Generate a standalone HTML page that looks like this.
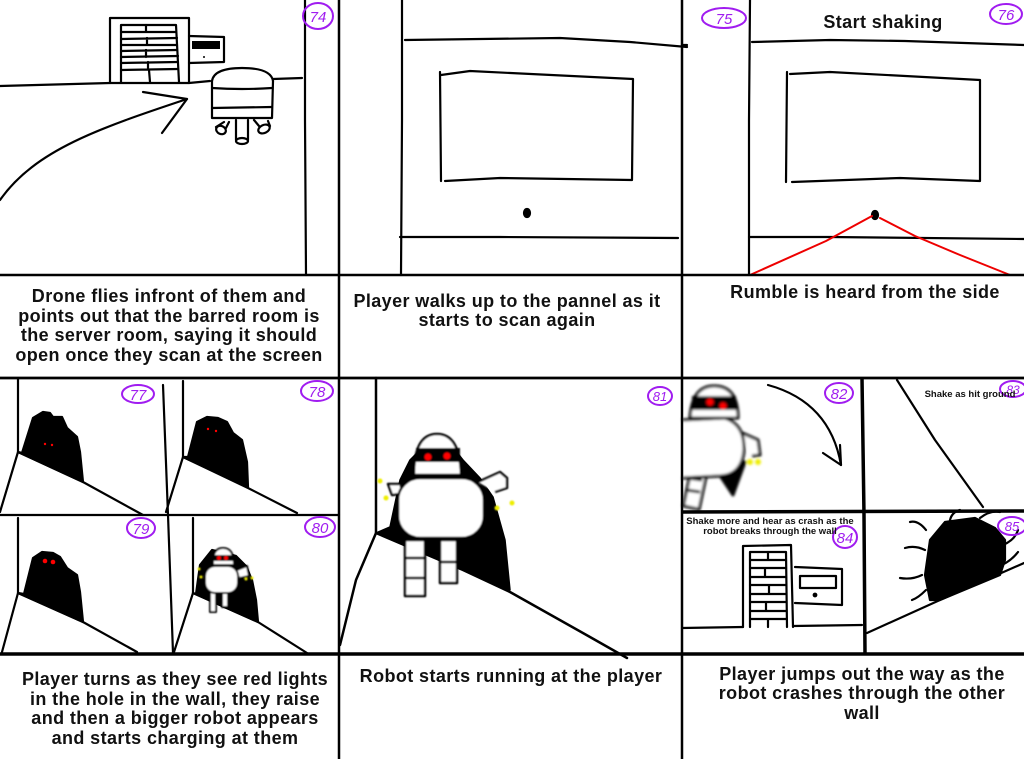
<!DOCTYPE html>
<html><head><meta charset="utf-8"><style>
html,body{margin:0;padding:0;background:#fff;}
svg{display:block;}
.t{font-family:"Liberation Sans",Arial,sans-serif;font-weight:bold;fill:#111;text-anchor:middle;}
.big{font-size:18px;letter-spacing:0.4px;}
.sm{font-size:9.5px;}
.n{font-family:"Liberation Sans",Arial,sans-serif;font-size:15px;fill:#a01cf0;text-anchor:middle;font-style:italic;}
</style></head><body>
<svg width="1024" height="759" viewBox="0 0 1024 759" xmlns="http://www.w3.org/2000/svg">
<defs>
<filter id="bl" x="-20%" y="-20%" width="140%" height="140%"><feGaussianBlur stdDeviation="0.9"/></filter>
<filter id="bl2" x="-20%" y="-20%" width="140%" height="140%"><feGaussianBlur stdDeviation="1.3"/></filter>
</defs>
<rect width="1024" height="759" fill="#fff"/>

<g fill="none" stroke="#000" stroke-width="2.2" stroke-linecap="round" stroke-linejoin="round">
<!-- ===== Panel 74 ===== -->
<path d="M305,0 L305,120 L306,275"/>
<path d="M0,86 L110,83 L189,83 L210,81 M273,79 L302,78"/>
<!-- door -->
<path d="M110,83 L110,18 L189,18 L189,83"/>
<path d="M121,82 L121,25 L176,25 L179,82"/>
<path d="M121,32 L176,32 M121,39 L177,38 M121,45 L177,45 M121,51 L177,50 M121,57 L178,56 M121,63 L178,62 M121,70 L178,69 M146,25 L146,32 M147,38 L147,45 M146,50 L146,57 M148,62 L148,69 M149,70 L150,82"/>
<!-- wall panel -->
<path d="M189,36 L224,37 L224,62 L189,63"/>
<rect x="192" y="41" width="28" height="8" fill="#000" stroke="none"/>
<circle cx="204" cy="57" r="1" fill="#000" stroke="none"/>
<!-- drone -->
<path d="M212,81 Q214,68 242,68 Q271,68 273,81"/>
<path d="M212,81 L212,118 L272,118 L273,81"/>
<path d="M212,88 Q242,90 272,88 M212,108 L272,107"/>
<ellipse cx="221" cy="130" rx="5" ry="4" transform="rotate(25 221 130)"/>
<path d="M216,127 L224,122 M226,128 L229,122"/>
<path d="M236,120 L236,140 M248,120 L248,140"/>
<ellipse cx="242" cy="141" rx="6" ry="3"/>
<ellipse cx="264" cy="129" rx="6" ry="4" transform="rotate(-25 264 129)"/>
<path d="M254,120 L259,126 M268,121 L270,126"/>
<!-- arrow -->
<path d="M0,200 C35,150 100,128 187,99"/>
<path d="M143,92 L187,99 L162,133"/>

<!-- ===== Panel middle top ===== -->
<path d="M402,0 L402,120 L401,275"/>
<path d="M405,40 L560,38 L630,42 L687,47"/>
<path d="M440,72 L441,181 M441,75 L470,71 L633,79 L632,180 L500,178 L445,181"/>
<ellipse cx="527" cy="213" rx="3" ry="4" fill="#000"/>
<path d="M400,237 L500,237 L678,238"/>

<!-- ===== Panel 75/76 ===== -->
<path d="M750,0 L749,120 L749,275"/>
<path d="M682,45 L687,45"/>
<path d="M752,42 L830,40 L905,41 L1024,45"/>
<path d="M787,72 L786,182 M790,74 L830,72 L980,80 L980,181 L900,178 L792,182"/>
<ellipse cx="875" cy="215" rx="3" ry="4" fill="#000"/>
<path d="M749,237 L830,237 L1024,239"/>
<path d="M750,275 L826,241 L872,216 M880,218 L915,236 L960,255 L1010,275" stroke="#e00" stroke-width="2"/>

<!-- ===== Sub-panel 77 ===== -->
<path d="M18,379 L18,452"/>
<path d="M0,512 L18,452 L83,482 L143,515"/>
<path d="M22,453 L33,418 L43,412 L50,413 L53,417 L62,417 L67,428 L77,437 L80,452 L83,482 L18,452 Z" fill="#000"/>
<!-- Sub-panel 78 -->
<path d="M163,385 L168,515 L173,653"/>
<path d="M183,381 L183,457"/>
<path d="M166,512 L183,457 L248,488 L297,513"/>
<path d="M188,457 L197,422 L207,417 L218,418 L227,422 L233,433 L242,440 L247,462 L248,487 L183,457 Z" fill="#000"/>
<!-- Sub-panel 79 -->
<path d="M18,518 L18,593"/>
<path d="M2,652 L18,593 L83,622 L137,652"/>
<path d="M24,594 L33,558 L42,552 L53,553 L60,557 L67,568 L77,575 L80,592 L83,622 L18,593 Z" fill="#000"/>
<!-- Sub-panel 80 -->
<path d="M193,518 L193,593"/>
<path d="M174,652 L193,593 L258,622 L307,653"/>
<path d="M196,594 L200,565 L212,550 L236,556 L246,566 L252,580 L256,600 L258,622 L193,593 Z" fill="#000"/>
<path d="M0,515 L339,515"/>
</g>

<!-- robot 80 -->
<g filter="url(#bl)" stroke="#000" stroke-width="2" stroke-linejoin="round">
<path d="M237,570 L247,566 L249,576 L240,578" fill="#fff"/>
<rect x="210" y="590" width="6" height="22" fill="#fff"/>
<rect x="222" y="590" width="6" height="17" fill="#fff"/>
<path d="M213,565 Q212,548 223,548 Q234,548 234,565 Z" fill="#fff"/>
<rect x="213" y="555" width="21" height="6" fill="#000" stroke="none"/>
<rect x="205" y="566" width="33" height="27" rx="10" fill="#fff"/>
<circle cx="219" cy="558" r="2" fill="#f00" stroke="none"/>
<circle cx="226" cy="558" r="2" fill="#f00" stroke="none"/>
<g fill="#ee0" stroke="none"><circle cx="199" cy="569" r="1.5"/><circle cx="201" cy="577" r="1.5"/><circle cx="246" cy="579" r="1.5"/><circle cx="252" cy="578" r="1.5"/></g>
</g>
<g fill="#f00"><circle cx="45" cy="444" r="1.2"/><circle cx="52" cy="445" r="1.2"/><circle cx="208" cy="429" r="1.2"/><circle cx="216" cy="431" r="1.2"/><circle cx="45" cy="561" r="2.3"/><circle cx="53" cy="562" r="2.3"/></g>

<!-- ===== Panel 81 ===== -->
<g fill="none" stroke="#000" stroke-width="2.5" stroke-linejoin="round" stroke-linecap="round">
<path d="M376,378 L376,533"/>
<path d="M340,645 L356,580 L376,533 L463,570 L510,592 L590,637 L627,658"/>
<path d="M390,527 L400,480 L410,460 L420,450 L455,450 L463,460 L480,478 L493,497 L505,540 L510,590 L463,570 L376,533 Z" fill="#000" stroke-width="1.5"/>
</g>
<g filter="url(#bl)" stroke="#000" stroke-width="2.5" stroke-linejoin="round">
<path d="M478,482 L500,472 L507,478 L507,488 L495,492" fill="#fff"/>
<path d="M400,484 L388,484 L392,495 L400,494" fill="#fff"/>
<rect x="405" y="540" width="20" height="56" fill="#fff"/>
<path d="M405,558 L425,558 M405,578 L425,578" fill="none"/>
<rect x="440" y="540" width="17" height="43" fill="#fff"/>
<path d="M440,562 L457,562" fill="none"/>
<path d="M414,475 Q414,434 437,434 Q460,434 461,475 Z" fill="#fff"/>
<rect x="416" y="448" width="44" height="14" fill="#000" stroke="none"/>
<rect x="398" y="478" width="86" height="60" rx="22" fill="#fff"/>
<circle cx="428" cy="457" r="3.5" fill="#f00" stroke="none"/>
<circle cx="447" cy="456" r="3.5" fill="#f00" stroke="none"/>
<g fill="#ee0" stroke="none"><circle cx="380" cy="481" r="2.5"/><circle cx="386" cy="498" r="2.5"/><circle cx="497" cy="508" r="2.5"/><circle cx="512" cy="503" r="2.5"/></g>
</g>

<!-- ===== Panel 82 ===== -->
<g filter="url(#bl2)" stroke="#000" stroke-width="3" stroke-linejoin="round">
<path d="M715,468 L745,462 L733,495 Z" fill="#000"/>
<path d="M740,432 L758,440 L760,455 L752,456" fill="#fff"/>
<rect x="687" y="470" width="16" height="38" fill="#fff" transform="rotate(12 695 490)"/>
<path d="M688,478 L702,480 M686,490 L700,492" fill="none"/>
<path d="M690,418 Q692,386 714,386 Q738,386 738,418 Z" fill="#fff"/>
<rect x="692" y="396" width="44" height="14" fill="#000" stroke="none"/>
<path d="M682,420 L725,418 Q745,425 744,450 Q742,475 720,476 L682,478" fill="#fff"/>
<circle cx="710" cy="402" r="3.5" fill="#f00" stroke="none"/>
<circle cx="723" cy="406" r="3.5" fill="#f00" stroke="none"/>
<g fill="#ee0" stroke="none"><circle cx="750" cy="462" r="3"/><circle cx="758" cy="462" r="3"/></g>
</g>

<g fill="none" stroke="#000" stroke-width="2.2" stroke-linecap="round" stroke-linejoin="round">
<path d="M768,385 Q830,402 841,465"/>
<path d="M823,453 L841,465 L840,445"/>
<!-- Panel 83 -->
<path d="M897,380 L935,440 L983,507"/>
<!-- Panel 84 -->
<path d="M743,627 L743,546 L791,545 L793,627"/>
<path d="M750,627 L750,552 L786,552 L787,627"/>
<path d="M750,560 L786,560 M750,568 L786,568 M750,577 L786,577 M750,585 L786,585 M750,594 L786,594 M750,602 L786,602 M750,611 L786,611 M750,619 L786,619 M768,552 L768,560 M765,568 L765,577 M769,585 L769,594 M766,602 L766,611 M768,619 L768,627"/>
<path d="M795,567 L842,569 L842,605 L795,603"/>
<path d="M800,576 L836,576 L836,588 L800,588 Z"/>
<circle cx="815" cy="595" r="1.3" fill="#000"/>
<path d="M682,628 L743,627 M793,626 L862,625"/>
<!-- Panel 85 -->
<path d="M867,633 L940,600 L1024,563"/>
<path d="M930,600 L925,575 L930,540 L945,522 L975,518 L995,528 L1005,540 L1005,560 L1000,575 L940,600 Z" fill="#000"/>
<path d="M926,530 Q918,520 910,522 M925,550 Q915,545 905,548 M922,575 Q912,580 900,578 M926,590 Q918,598 912,600 M950,520 Q952,512 960,510 M980,518 Q990,510 1000,512 M1003,545 Q1015,540 1018,530 M1002,565 Q1012,560 1018,552"/>
</g>

<!-- ===== Grid lines ===== -->
<g stroke="#000" fill="none">
<path d="M339,0 L339,759" stroke-width="2.5"/>
<path d="M682,0 L682,759" stroke-width="2.5"/>
<path d="M0,275 L1024,275" stroke-width="2.5"/>
<path d="M0,378 L1024,378" stroke-width="2.8"/>
<path d="M0,654 L1024,654" stroke-width="3.5"/>
<path d="M862,378 L864,515 L865,654" stroke-width="3.5"/>
<path d="M682,512 L1024,511" stroke-width="3.5"/>
</g>

<!-- ===== Circled numbers ===== -->
<g fill="none" stroke="#a01cf0" stroke-width="2">
<ellipse cx="318" cy="16" rx="15" ry="13"/>
<ellipse cx="724" cy="18" rx="22" ry="10"/>
<ellipse cx="1006" cy="14" rx="16" ry="10"/>
<ellipse cx="138" cy="394" rx="16" ry="9"/>
<ellipse cx="317" cy="391" rx="16" ry="10"/>
<ellipse cx="141" cy="528" rx="14" ry="10"/>
<ellipse cx="320" cy="527" rx="15" ry="10"/>
<ellipse cx="660" cy="396" rx="12" ry="9"/>
<ellipse cx="839" cy="393" rx="14" ry="10"/>
<ellipse cx="1013" cy="389" rx="13" ry="8"/>
<ellipse cx="845" cy="537" rx="12" ry="11"/>
<ellipse cx="1012" cy="526" rx="14" ry="9"/>
</g>
<g class="n">
<text x="318" y="22">74</text>
<text x="724" y="24">75</text>
<text x="1006" y="20">76</text>
<text x="138" y="400">77</text>
<text x="317" y="397">78</text>
<text x="141" y="534">79</text>
<text x="320" y="533">80</text>
<text x="660" y="401" font-size="13">81</text>
<text x="839" y="399">82</text>
<text x="1013" y="394" font-size="12">83</text>
<text x="845" y="543">84</text>
<text x="1012" y="531" font-size="13">85</text>
</g>

<!-- ===== Text ===== -->
<g class="t big">
<text x="883" y="28">Start shaking</text>
<text x="169" y="302">Drone flies infront of them and</text>
<text x="169" y="322">points out that the barred room is</text>
<text x="169" y="341">the server room, saying it should</text>
<text x="169" y="361">open once they scan at the screen</text>
<text x="507" y="307">Player walks up to the pannel as it</text>
<text x="507" y="326">starts to scan again</text>
<text x="865" y="298">Rumble is heard from the side</text>
<text x="175" y="685">Player turns as they see red lights</text>
<text x="175" y="705">in the hole in the wall, they raise</text>
<text x="175" y="724">and then a bigger robot appears</text>
<text x="175" y="744">and starts charging at them</text>
<text x="511" y="682">Robot starts running at the player</text>
<text x="862" y="680">Player jumps out the way as the</text>
<text x="862" y="699">robot crashes through the other</text>
<text x="862" y="719">wall</text>
</g>
<g class="t sm">
<text x="970" y="397">Shake as hit ground</text>
<text x="770" y="524">Shake more and hear as crash as the</text>
<text x="770" y="534">robot breaks through the wall</text>
</g>
</svg>
</body></html>
